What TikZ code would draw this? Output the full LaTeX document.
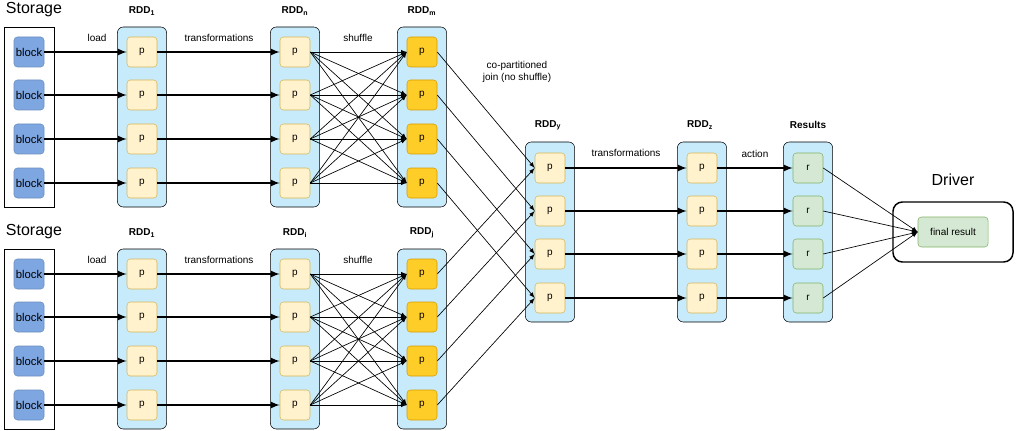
\documentclass[tikz,border=0pt]{standalone}
\usepackage{fontspec}
\setmainfont{Liberation Sans}
\usetikzlibrary{positioning}
\definecolor{blockfill}{HTML}{7EA6E0}
\definecolor{blockline}{HTML}{6C8EBF}
\definecolor{contfill}{HTML}{C8EBFC}
\definecolor{pfill}{HTML}{FFF2CC}
\definecolor{pline}{HTML}{D6B656}
\definecolor{ofill}{HTML}{FFCD28}
\definecolor{oline}{HTML}{D79B00}
\definecolor{gfill}{HTML}{D5E8D4}
\definecolor{gline}{HTML}{82B366}
\begin{document}
\begin{tikzpicture}
[
x=0.75pt, y=-0.75pt,
font=\fontsize{7.5}{9}\selectfont,
cont-a/.style={draw, rounded corners=4.5pt, fill=contfill, minimum width=37pt, minimum height=135pt, inner sep=0pt},
cont-b/.style={draw, minimum width=37.5pt, minimum height=135pt, inner sep=0pt},
cell-b/.style={draw=blockline, fill=blockfill, rounded corners=2.5pt, minimum size=22.5pt, inner sep=0pt, font=\fontsize{8.5}{10}\selectfont},
cell-p/.style={draw=pline, fill=pfill, rounded corners=2.5pt, minimum size=22.5pt, inner sep=0pt},
cell-o/.style={cell-p, draw=oline, fill=ofill},
cell-r/.style={cell-p, draw=gline, fill=gfill},
head-a/.style={font=\bfseries\fontsize{7.5}{9}\selectfont},
head-b/.style={font=\fontsize{12}{14}\selectfont},
text-a/.style={},
thick-a/.style={-latex, line width=1.3pt},
thin-a/.style={-latex, line width=0.5pt}
]
\useasboundingbox (0,0) rectangle (1016,431);

% two pipelines: top and bottom
\foreach \s/\y/\n/\m/\k in {t/0/1/n/m, b/222/1/i/j} {
  \node (store-\s) [cont-b]  at (29,117+\y)  {};
  \node (rdd1-\s)  [cont-a]  at (142,117+\y) {};
  \node (rddn-\s)  [cont-a]  at (295,117+\y) {};
  \node (rddm-\s)  [cont-a]  at (422,117+\y) {};
  \node [head-b]             at (34,10+\y)   {Storage};
  \node [head-a]             at (142,11+\y)  {RDD\textsubscript{\n}};
  \node [head-a]             at (295,11+\y)  {RDD\textsubscript{\m}};
  \node [head-a]             at (422,11+\y)  {RDD\textsubscript{\k}};
  \node [text-a]             at (97,38+\y)   {load};
  \node [text-a]             at (219,38+\y)  {transformations};
  \node [text-a]             at (358,38+\y)  {shuffle};
  \foreach \i/\r in {1/52, 2/95, 3/139, 4/183} {
    \node (blk-\s\i) [cell-b] at (29,\r+\y)  {block};
    \node (p1-\s\i)  [cell-p] at (142,\r+\y) {p};
    \node (pn-\s\i)  [cell-p] at (295,\r+\y) {p};
    \node (pm-\s\i)  [cell-o] at (422,\r+\y) {p};
    \draw [thick-a] (blk-\s\i) -- (p1-\s\i);
    \draw [thick-a] (p1-\s\i) -- (pn-\s\i);
  }
  \foreach \i in {1,...,4}
    \foreach \j in {1,...,4}
      \draw [thin-a] (pn-\s\i.east) -- (pm-\s\j.west);
}

% joined part
\node (rddy)    [cont-a] at (550,232) {};
\node (rddz)    [cont-a] at (702,232) {};
\node (results) [cont-a] at (808,232) {};
\node [head-a] at (548,125) {RDD\textsubscript{y}};
\node [head-a] at (700,125) {RDD\textsubscript{z}};
\node [head-a] at (808,125) {Results};
\node [text-a, align=center] at (517,72) {co-partitioned\\join (no shuffle)};
\node [text-a] at (626,153) {transformations};
\node [text-a] at (755,154) {action};

\node (driver) [draw, line width=1.1pt, rounded corners=7pt, minimum width=90pt, minimum height=45pt] at (953,232) {};
\node [head-b] at (953,180) {Driver};
\node (final) [cell-r, minimum width=52.5pt] at (953,232) {final result};

\foreach \i/\r in {1/168, 2/211, 3/254, 4/298} {
  \node (py-\i) [cell-p] at (550,\r) {p};
  \node (pz-\i) [cell-p] at (702,\r) {p};
  \node (r-\i)  [cell-r] at (808,\r) {r};
  \draw [thin-a]  (pm-t\i.east) -- (py-\i.west);
  \draw [thin-a]  (pm-b\i.east) -- (py-\i.west);
  \draw [thick-a] (py-\i) -- (pz-\i);
  \draw [thick-a] (pz-\i) -- (r-\i);
  \draw [thin-a]  (r-\i.east) -- (final.west);
}
\end{tikzpicture}
\end{document}
